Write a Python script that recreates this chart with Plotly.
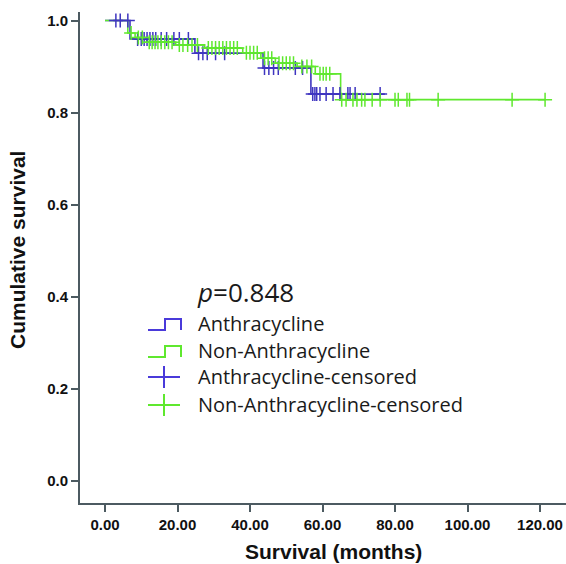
import plotly.graph_objects as go

# ---- data ----
blue_time = [0, 6.9, 24.8, 43.6, 56.8]
blue_surv = [1.0, 0.960, 0.929, 0.897, 0.840]
blue_end = 77.2

blue_cens_time = [3.0, 4.2, 6.3,
                  9.0, 10.0, 10.8, 11.6, 12.4, 13.2, 14.0, 15.5, 17.0, 19.0, 20.5, 23.0,
                  25.8, 27.0, 28.2, 30.5, 33.0,
                  44.0, 45.2, 46.5, 47.8, 52.5, 54.5,
                  57.3, 57.9, 58.4, 59.3, 61.0, 62.9, 64.8, 67.0, 67.6, 69.0, 75.9]
blue_cens_surv = [1.0, 1.0, 1.0,
                  0.960, 0.960, 0.960, 0.960, 0.960, 0.960, 0.960, 0.960, 0.960, 0.960, 0.960, 0.960,
                  0.929, 0.929, 0.929, 0.929, 0.929,
                  0.897, 0.897, 0.897, 0.897, 0.897, 0.897,
                  0.840, 0.840, 0.840, 0.840, 0.840, 0.840, 0.840, 0.840, 0.840, 0.840, 0.840]

green_time = [0, 6.3, 8.3, 11.5, 19.5, 27.5, 38.0, 43.0, 47.0, 53.0, 58.0, 65.0]
green_surv = [1.0, 0.973, 0.963, 0.953, 0.947, 0.940, 0.930, 0.918, 0.907, 0.900, 0.884, 0.828]
green_end = 121.4

green_cens_time = [7.2,
                   9.2, 10.3,
                   12.2, 13.0, 13.8, 14.6, 15.5, 16.5, 17.5, 18.5,
                   20.5, 21.5, 22.8, 24.0, 25.5,
                   28.5, 29.5, 30.5, 31.5, 32.5, 33.5, 34.5, 35.5, 36.5,
                   39.0, 40.0, 41.0, 42.0,
                   44.0, 45.0, 46.0,
                   48.0, 49.0, 50.0, 51.0, 52.0,
                   54.3, 55.7, 57.0,
                   59.3, 60.2, 61.0, 62.0,
                   65.3, 66.5, 68.4, 69.5, 70.8, 71.7, 73.7, 75.9, 80.0, 80.9, 83.3, 84.0, 91.9, 112.3, 121.4]
green_cens_surv = [0.973,
                   0.963, 0.963,
                   0.953, 0.953, 0.953, 0.953, 0.953, 0.953, 0.953, 0.953,
                   0.947, 0.947, 0.947, 0.947, 0.947,
                   0.940, 0.940, 0.940, 0.940, 0.940, 0.940, 0.940, 0.940, 0.940,
                   0.930, 0.930, 0.930, 0.930,
                   0.918, 0.918, 0.918,
                   0.907, 0.907, 0.907, 0.907, 0.907,
                   0.900, 0.900, 0.900,
                   0.884, 0.884, 0.884, 0.884,
                   0.828, 0.828, 0.828, 0.828, 0.828, 0.828, 0.828, 0.828, 0.828, 0.828, 0.828, 0.828, 0.828, 0.828, 0.828]

x_ticks = [0, 20, 40, 60, 80, 100, 120]
y_ticks = [0.0, 0.2, 0.4, 0.6, 0.8, 1.0]

legend_labels = ["Anthracycline", "Non-Anthracycline",
                 "Anthracycline-censored", "Non-Anthracycline-censored"]
p_text = "<i>p</i>=0.848"

BLUE = "#3F35C0"
GREEN = "#5FE82E"
AXIS = "#4C5A61"

# ---- layout geometry (pixels) ----
W, H = 566, 564
L, R, T, B = 80, 0, 12, 61
PW, PH = W - L - R, H - T - B


def px(x):
    return (x - L) / PW


def py(y):
    return (H - B - y) / PH


fig = go.Figure()

for times, surv, end, col in [(blue_time, blue_surv, blue_end, BLUE),
                               (green_time, green_surv, green_end, GREEN)]:
    xs = list(times) + [end]
    ys = list(surv) + [surv[-1]]
    fig.add_trace(go.Scatter(x=xs, y=ys, mode="lines", line=dict(color=col, width=1.6, shape="hv"),
                             hoverinfo="skip", showlegend=False))

for ct, cs, col in [(blue_cens_time, blue_cens_surv, BLUE), (green_cens_time, green_cens_surv, GREEN)]:
    fig.add_trace(go.Scatter(x=ct, y=cs, mode="markers",
                             marker=dict(symbol="cross-thin", size=10, line=dict(color=col, width=1.5)),
                             hoverinfo="skip", showlegend=False))

# ---- manual legend ----
shapes = []
row_y = [323, 350, 377, 405]
cols = ["#4A3ADA", GREEN, "#4A3ADA", GREEN]
for i, (yc, col) in enumerate(zip(row_y, cols)):
    if i < 2:
        pts = [(148, yc + 7), (165, yc + 7), (165, yc - 4), (181, yc - 4), (181, yc + 7)]
        path = "M " + " L ".join(f"{px(a):.5f},{py(b):.5f}" for a, b in pts)
        shapes.append(dict(type="path", xref="paper", yref="paper", path=path,
                           line=dict(color=col, width=2)))
    else:
        shapes.append(dict(type="line", xref="paper", yref="paper",
                           x0=px(148), x1=px(180), y0=py(yc), y1=py(yc),
                           line=dict(color=col, width=2)))
        shapes.append(dict(type="line", xref="paper", yref="paper",
                           x0=px(164), x1=px(164), y0=py(yc - 11), y1=py(yc + 11),
                           line=dict(color=col, width=2)))

annotations = []
annotations.append(dict(text=p_text, xref="paper", yref="paper", x=px(195), y=py(292),
                        xanchor="left", yanchor="middle", showarrow=False,
                        font=dict(family="Open Sans", size=26, color="#1a1a1a")))
for yc, lab in zip(row_y, legend_labels):
    annotations.append(dict(text=lab, xref="paper", yref="paper", x=px(196), y=py(yc),
                            xanchor="left", yanchor="middle", showarrow=False,
                            font=dict(family="Open Sans", size=20, color="#1a1a1a")))

annotations.append(dict(text="Survival (months)", xref="paper", yref="paper", x=px(333), y=py(551),
                        xanchor="center", yanchor="middle", showarrow=False,
                        font=dict(family="Liberation Sans", size=21, color="#111111", weight="bold")))
annotations.append(dict(text="Cumulative survival", xref="paper", yref="paper", x=px(17), y=py(250),
                        xanchor="center", yanchor="middle", showarrow=False, textangle=-90,
                        font=dict(family="Liberation Sans", size=21, color="#111111", weight="bold")))

tickfont = dict(family="Liberation Sans", size=15, color="#111111", weight="bold")

fig.update_layout(
    width=W, height=H,
    margin=dict(l=L, r=R, t=T, b=B, pad=0),
    paper_bgcolor="white", plot_bgcolor="white",
    showlegend=False,
    shapes=shapes,
    annotations=annotations,
    xaxis=dict(range=[-6.897, 127.17], tickvals=x_ticks, ticktext=[f"{v:.2f}" for v in x_ticks],
               showgrid=False, zeroline=False, showline=True, linecolor=AXIS, linewidth=2,
               ticks="outside", ticklen=7, tickwidth=2, tickcolor=AXIS, tickfont=tickfont),
    yaxis=dict(range=[-0.0489, 1.0185], tickvals=y_ticks, ticktext=[f"{v:.1f}" for v in y_ticks],
               showgrid=False, zeroline=False, showline=True, linecolor=AXIS, linewidth=2,
               ticks="outside", ticklen=7, tickwidth=2, tickcolor=AXIS, tickfont=tickfont),
)

fig.write_html("out.html", config={"displayModeBar": False})

# remove the default page margin so the figure fills the window exactly
with open("out.html", "r", encoding="utf-8") as f:
    html = f.read()
html = html.replace("<head>", "<head><style>html,body{margin:0;padding:0;overflow:hidden;}</style>", 1)
with open("out.html", "w", encoding="utf-8") as f:
    f.write(html)
